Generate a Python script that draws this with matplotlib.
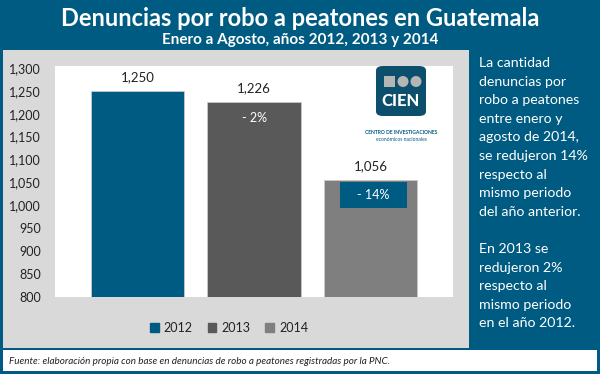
import matplotlib.pyplot as plt
from matplotlib.patches import Rectangle, FancyBboxPatch, Ellipse

plt.rcParams['font.family'] = ['Lato', 'DejaVu Sans']

years = ["2012", "2013", "2014"]
denuncias = [1250, 1226, 1056]
cambios = ["", "- 2%", "- 14%"]
colores = ["#005b82", "#595959", "#7f7f7f"]
yticks = [800, 850, 900, 950, 1000, 1050, 1100, 1150, 1200, 1250, 1300]

nota = ["La cantidad", "denuncias por", "robo a peatones", "entre enero y",
        "agosto de 2014,", "se redujeron 14%", "respecto al", "mismo periodo",
        "del año anterior.", "", "En 2013 se", "redujeron 2%", "respecto al",
        "mismo periodo", "en el año 2012."]

teal = "#005b82"
W, H = 600, 374

fig = plt.figure(figsize=(6, 3.74), dpi=100)
fig.patch.set_facecolor(teal)


def px(x, y, w, h):
    # rectangle in pixel coords (from top left) -> figure fraction
    return (x / W, 1 - (y + h) / H, w / W, h / H)


def box(x, y, w, h, color, z=-1):
    l, b, ww, hh = px(x, y, w, h)
    fig.patches.append(Rectangle((l, b), ww, hh, transform=fig.transFigure,
                                 facecolor=color, edgecolor="none", zorder=z))


# panels
box(3, 50, 466, 298, "#d9d9d9")
box(3, 350, 594, 21, "white")

fig.text(0.5, 1 - 18 / H, "Denuncias por robo a peatones en Guatemala", ha="center",
         va="center", color="white", fontsize=17, fontweight="bold")
fig.text(0.5, 1 - 40 / H, "Enero a Agosto, años 2012, 2013 y 2014", ha="center",
         va="center", color="white", fontsize=11, fontweight="bold")

# bar chart
ax = fig.add_axes(px(55, 66, 398, 231))
ax.set_facecolor("white")
xs = range(len(years))
ax.bar(xs, denuncias, width=0.8, color=colores, edgecolor="#c8c8c8", linewidth=0.6)
ax.set_ylim(800, 1304)
ax.set_xlim(-0.71, 2.71)
ax.set_yticks(yticks)
ax.set_yticklabels([f"{v:,}" for v in yticks])
ax.set_xticks([])
ax.tick_params(axis="y", length=0, pad=10, labelsize=9, labelcolor="#222222")
for s in ax.spines.values():
    s.set_visible(False)

for i, v in enumerate(denuncias):
    ax.text(i, v + 16, f"{v:,}", ha="center", va="bottom", fontsize=9.5, color="#222222")

ax.text(1, 1191, cambios[1], ha="center", va="center", fontsize=9, color="white")
ax.add_patch(Rectangle((1.738, 994), 0.575, 57, facecolor=teal, edgecolor="none", zorder=3))
ax.text(2.025, 1022, cambios[2], ha="center", va="center", fontsize=9, color="white", zorder=4)

# legend
handles = [Rectangle((0, 0), 1, 1, color=c) for c in colores]
fig.legend(handles, years, loc="center", bbox_to_anchor=(229 / W, 1 - 328 / H), ncol=3,
           frameon=False, fontsize=9, handlelength=0.7, handleheight=0.7,
           handletextpad=0.4, columnspacing=1.2, labelcolor="#222222")

# logo
l, b, w, h = px(376, 66, 50, 50)
fig.patches.append(FancyBboxPatch((l, b), w, h, boxstyle="round,pad=0,rounding_size=0.012",
                                  transform=fig.transFigure, facecolor="#0b4f6c",
                                  edgecolor="none", zorder=3))
box(384, 76, 11, 11, "#b5b5b5", z=4)
for cx in (403, 416):
    fig.patches.append(Ellipse((cx / W, 1 - 81.5 / H), 11 / W, 11 / H, transform=fig.transFigure,
                               facecolor="#b5b5b5", edgecolor="none", zorder=4))
fig.text(401 / W, 1 - 101 / H, "CIEN", ha="center", va="center", color="white",
         fontsize=12, fontweight="black", zorder=5)
fig.text(401 / W, 1 - 132 / H, "CENTRO DE INVESTIGACIONES", ha="center", va="center",
         color=teal, fontsize=3.6, fontweight="bold")
fig.text(401 / W, 1 - 140 / H, "económicos nacionales", ha="center", va="center",
         color=teal, fontsize=3.6)

# side note, one line at a time
for i, linea in enumerate(nota):
    fig.text(479 / W, 1 - (67 + 18.6 * i) / H, linea, ha="left", va="baseline",
             color="white", fontsize=10.2)

fig.text(9 / W, 1 - 361 / H,
         "Fuente: elaboración propia con base en denuncias de robo a peatones registradas por la PNC.",
         ha="left", va="center", fontsize=7.1, style="italic", color="#222222")

fig.savefig("out.png", dpi=100, facecolor=teal)
